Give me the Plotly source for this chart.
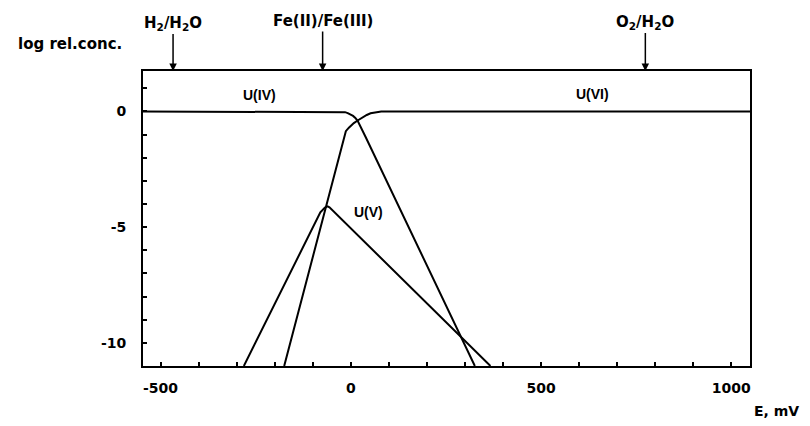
import plotly.graph_objects as go

# ---- data (E in mV, log relative concentration) ----
E_U4 = [-546, -30, -22, -15, -8, 0, 6, 12, 18, 39, 326]
log_U4 = [0, 0, -0.01, -0.03, -0.07, -0.12, -0.19, -0.28, -0.40, -1.10, -11.0]

E_U6 = [-175, -68, -25, -13, -5, 0, 8, 18, 30, 42, 52, 65, 80, 1049]
log_U6 = [-11.0, -4.25, -1.55, -0.85, -0.70, -0.62, -0.50, -0.39, -0.26, -0.15, -0.08, -0.03, 0, 0]

E_U5 = [-281, -92, -80, -68, -61, -56, 367]
log_U5 = [-11.0, -4.70, -4.36, -4.15, -4.10, -4.14, -11.0]

x_tickvals = [-500, 0, 500, 1000]
x_ticktext = ["-500", "0", "500", "1000"]
y_tickvals = [-10, -5, 0]
y_ticktext = ["-10", "-5", "0"]

species_labels = ["U(IV)", "U(VI)", "U(V)"]
species_E = [-241, 635, 47]
species_log = [0.73, 0.76, -4.36]

couple_labels = ["H<sub>2</sub>/H<sub>2</sub>O", "Fe(II)/Fe(III)", "O<sub>2</sub>/H<sub>2</sub>O"]
couple_E = [-467, -74, 774]

FONT = "DejaVu Sans"
fig = go.Figure()
for xs, ys in [(E_U4, log_U4), (E_U6, log_U6), (E_U5, log_U5)]:
    fig.add_trace(go.Scatter(x=xs, y=ys, mode="lines",
                             line=dict(color="black", width=2),
                             showlegend=False, hoverinfo="skip"))

annotations = []
for t, e, l in zip(species_labels, species_E, species_log):
    annotations.append(dict(x=e, y=l, xref="x", yref="y", text=t, showarrow=False,
                            font=dict(family="Liberation Sans", size=14, color="black", weight="bold")))
for t, e, ay in zip(couple_labels, couple_E, [-48, -50, -49]):
    annotations.append(dict(x=e, y=1, xref="x", yref="paper", text=t, showarrow=True,
                            ax=0, ay=ay, arrowhead=2, arrowsize=1, arrowwidth=1.5,
                            arrowcolor="black", standoff=0,
                            font=dict(family=FONT, size=15, color="black", weight="bold")))
annotations.append(dict(x=-0.121, y=1.09, xref="paper", yref="paper", text="log rel.conc.",
                        showarrow=False, xanchor="center", yanchor="middle",
                        font=dict(family=FONT, size=15, color="black", weight="bold")))
annotations.append(dict(x=1.043, y=-0.151, xref="paper", yref="paper", text="E, mV",
                        showarrow=False, xanchor="center", yanchor="middle",
                        font=dict(family=FONT, size=14, color="black", weight="bold")))

axis_common = dict(showline=True, linecolor="black", linewidth=2, mirror=True,
                   ticks="inside", ticklen=4, tickwidth=1.5, tickcolor="black",
                   showgrid=False, zeroline=False,
                   tickfont=dict(family=FONT, size=14, color="black", weight="bold"))

fig.update_layout(
    width=810, height=426,
    margin=dict(l=143, r=60, t=71, b=60),
    paper_bgcolor="white", plot_bgcolor="white",
    xaxis=dict(range=[-546, 1049], tickmode="array", tickvals=x_tickvals,
               ticktext=x_ticktext, ticklabelstandoff=8,
               minor=dict(tickmode="linear", tick0=0, dtick=100, ticks="inside",
                          ticklen=4, tickwidth=1.5, tickcolor="black", showgrid=False),
               **axis_common),
    yaxis=dict(range=[-11, 1.75], tickmode="array", tickvals=y_tickvals,
               ticktext=y_ticktext, ticklabelstandoff=12,
               minor=dict(tickmode="linear", tick0=0, dtick=1, ticks="inside",
                          ticklen=4, tickwidth=1.5, tickcolor="black", showgrid=False),
               **axis_common),
    annotations=annotations,
)

fig.write_html("out.html")
